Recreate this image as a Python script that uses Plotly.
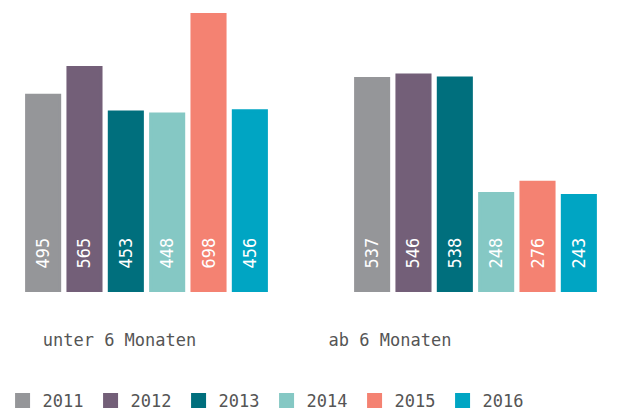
import plotly.graph_objects as go

categories = ["unter 6 Monaten", "ab 6 Monaten"]
years = ["2011", "2012", "2013", "2014", "2015", "2016"]
values = {
    "2011": [495, 537],
    "2012": [565, 546],
    "2013": [453, 538],
    "2014": [448, 248],
    "2015": [698, 276],
    "2016": [456, 243],
}
colors = ["#959699", "#735f78", "#006f7d", "#85c8c4", "#f48272", "#00a5c3"]

FONT = "DejaVu Sans Mono"
fig = go.Figure()
for yr, col in zip(years, colors):
    fig.add_trace(go.Bar(
        name=yr, x=categories, y=values[yr],
        marker=dict(color=col, line=dict(width=3, color=col)),
        text=values[yr],
        texttemplate="\u00a0\u00a0%{text}",
        textposition="inside", insidetextanchor="start", textangle=-90,
        textfont=dict(family=FONT, size=17, color="white"),
        hoverinfo="skip",
    ))

# invisible helper trace so the category-label axis is drawn
fig.add_trace(go.Scatter(
    x=list(range(len(categories))), y=[0] * len(categories),
    xaxis="x2", yaxis="y", mode="markers", marker=dict(opacity=0),
    showlegend=False, hoverinfo="skip",
))

fig.update_layout(
    width=642, height=420,
    margin=dict(l=0, r=0, t=0, b=128),
    paper_bgcolor="white", plot_bgcolor="white",
    barmode="group", bargap=0.246, bargroupgap=0.2,
    font=dict(family=FONT, color="#555555", size=17),
    xaxis=dict(range=[-0.4453, 1.5061], showgrid=False, zeroline=False,
               showline=False, ticks="", showticklabels=False),
    xaxis2=dict(type="linear", overlaying="x", anchor="y", side="bottom",
                range=[-0.4418, 1.9316], tickmode="array",
                tickvals=list(range(len(categories))), ticktext=categories,
                showgrid=False, zeroline=False, showline=False, ticks="",
                ticklabelstandoff=36,
                tickfont=dict(family=FONT, size=17, color="#555555")),
    yaxis=dict(range=[0, 734.5], visible=False),
    legend=dict(orientation="h", x=0.004, xanchor="left", y=-0.373, yanchor="middle",
                font=dict(family=FONT, size=17, color="#555555"),
                entrywidth=43, traceorder="normal"),
    showlegend=True,
)
fig.write_html("out.html", config={"displayModeBar": False},
               post_script="document.body.style.margin='0';")
